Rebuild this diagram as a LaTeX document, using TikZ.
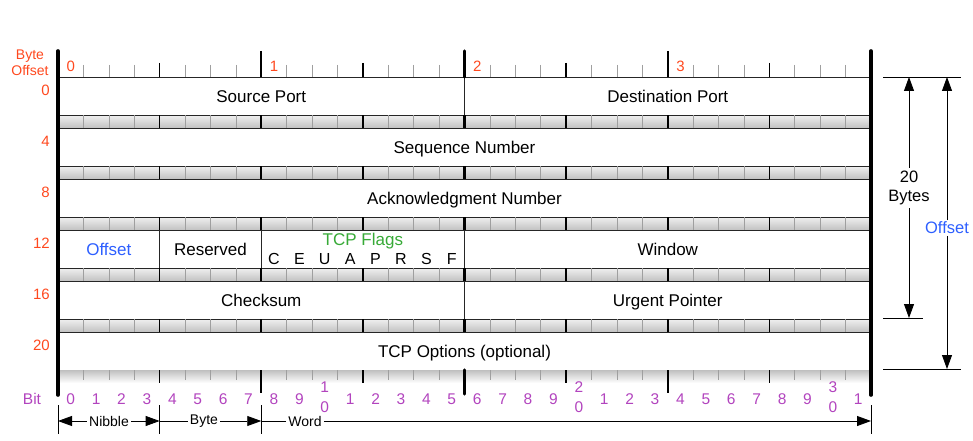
\documentclass[tikz,border=0pt]{standalone}
\usepackage{fontspec}
\setmainfont{Liberation Sans}
\usetikzlibrary{arrows.meta,positioning}

\definecolor{byteorange}{RGB}{255,72,30}
\definecolor{bitpurple}{RGB}{178,68,190}
\definecolor{flaggreen}{RGB}{55,170,55}
\definecolor{offblue}{RGB}{45,95,255}

\def\bw{25.406}

\begin{document}
\begin{tikzpicture}[x=1pt, y=-1pt,
  font=\fontsize{17}{20}\selectfont,
  field/.style={draw=black!85, line width=0.8pt, fill=white, minimum height=38pt, inner sep=0pt, outer sep=0pt, text height=12.2pt, text depth=0pt, anchor=north west},
  band/.style={draw=black!85, line width=0.7pt, top color=gray!12, bottom color=gray!48},
  bittick/.style={draw=gray!75, line width=0.6pt},
  nibtick/.style={draw=black, line width=1.6pt},
  bytetick/.style={draw=black, line width=1.8pt},
  wordtick/.style={draw=black, line width=3.4pt},
  edgebar/.style={draw=black, line width=3.6pt, line cap=round},
  bytenum/.style={text=byteorange, font=\fontsize{15}{17}\selectfont, inner sep=0pt},
  bitnum/.style={text=bitpurple, font=\fontsize{15.5}{17}\selectfont, inner sep=0pt},
  flagbit/.style={font=\fontsize{16}{18}\selectfont, inner sep=0pt, anchor=base},
  span/.style={font=\fontsize{14}{16}\selectfont, inner sep=2pt},
  dim/.style={line width=0.8pt},
  tip/.style={-{Triangle[length=14pt,width=10pt]}},
  ]
  \useasboundingbox (0,0) rectangle (973,441);

  % fields
  \node[field, minimum width={16*\bw*1pt}] (srcport) at (58,77) {Source Port};
  \node[field, minimum width={16*\bw*1pt}] (dstport) at (srcport.north east) {Destination Port};
  \node[field, minimum width={32*\bw*1pt}] (seqnum) at (58,128) {Sequence Number};
  \node[field, minimum width={32*\bw*1pt}] (acknum) at (58,179) {Acknowledgment Number};
  \node[field, minimum width={4*\bw*1pt}, text=offblue] (offset) at (58,230) {Offset};
  \node[field, minimum width={4*\bw*1pt}] (resvd) at (offset.north east) {Reserved};
  \node[field, minimum width={8*\bw*1pt}] (flags) at (resvd.north east) {};
  \node[field, minimum width={16*\bw*1pt}] (window) at (flags.north east) {Window};
  \node[field, minimum width={16*\bw*1pt}] (cksum) at (58,281) {Checksum};
  \node[field, minimum width={16*\bw*1pt}] (urgptr) at (cksum.north east) {Urgent Pointer};
  \node[field, minimum width={32*\bw*1pt}] (options) at (58,332) {TCP Options (optional)};

  \node[text=flaggreen, inner sep=0pt, below=2.5pt of flags.north] (flagtitle) {TCP Flags};
  \foreach \f [count=\i from 8] in {C,E,U,A,P,R,S,F}
    \node[flagbit] (flag\f) at ({58+(\i+0.5)*\bw},264) {\f};

  % gray bands between rows
  \foreach \r in {0,...,4} {
    \draw[band] (58,{115+51*\r}) rectangle (871,{128+51*\r});
    \foreach \b in {1,...,31}
      \draw[bittick] ({58+\b*\bw},{115+51*\r}) -- ++(0,13);
    \foreach \b in {4,8,12,20,24,28}
      \draw[nibtick] ({58+\b*\bw},{115+51*\r}) -- ++(0,13);
    \draw[wordtick] ({58+16*\bw},{115+51*\r}) -- ++(0,13);
  }

  % top ruler
  \foreach \b in {1,...,31}
    \draw[bittick] ({58+\b*\bw},65) -- ({58+\b*\bw},77);
  \foreach \b in {4,12,20,28}
    \draw[nibtick] ({58+\b*\bw},63) -- ({58+\b*\bw},77);
  \foreach \b in {8,24}
    \draw[bytetick] ({58+\b*\bw},51) -- ({58+\b*\bw},77);
  \draw[wordtick, line cap=round] ({58+16*\bw},51) -- ({58+16*\bw},77);
  \foreach \B in {0,...,3}
    \node[bytenum] (byte\B) at ({58+(8*\B+0.5)*\bw},66) {\B};

  % bottom ruler
  \fill[top color=gray!50, bottom color=white] (58,370) rectangle (871,383);
  \foreach \b in {1,...,31}
    \draw[bittick] ({58+\b*\bw},370) -- ({58+\b*\bw},380);
  \foreach \b in {4,12,20,28}
    \draw[nibtick] ({58+\b*\bw},370) -- ({58+\b*\bw},383);
  \foreach \b in {8,24}
    \draw[bytetick] ({58+\b*\bw},370) -- ({58+\b*\bw},393);
  \draw[wordtick, line cap=round] ({58+16*\bw},370) -- ({58+16*\bw},394);

  \draw[edgebar] (58,51) -- (58,395);
  \draw[edgebar] (871,51) -- (871,395);

  % offsets and bit numbers
  \node[bytenum, align=center, font=\fontsize{14}{15.5}\selectfont] (byteoff) at (30,63) {Byte\\Offset};
  \foreach \r/\o in {0/0,1/4,2/8,3/12,4/16,5/20}
    \node[bytenum, anchor=east] (off\o) at (50,{90+51*\r}) {\o};
  \node[bitnum] (bitlbl) at (32,399) {Bit};
  \foreach \b in {0,...,31} {
    \pgfmathtruncatemacro\dig{mod(\b,10)}
    \pgfmathtruncatemacro\ten{\b/10}
    \ifnum\dig=0 \ifnum\b>0
      \node[bitnum] (bit\b) at ({58+(\b+0.5)*\bw},387) {\ten};
      \node[bitnum] (bit\b z) at ({58+(\b+0.5)*\bw},407) {0};
    \else
      \node[bitnum] (bit\b) at ({58+(\b+0.5)*\bw},399) {0};
    \fi\else
      \node[bitnum] (bit\b) at ({58+(\b+0.5)*\bw},399) {\dig};
    \fi
  }

  % nibble / byte / word
  \foreach \b in {0,4,8,32} {
    \coordinate (s\b) at ({58+\b*\bw},421);
    \draw[line width=0.7pt] ({58+\b*\bw},405) -- ({58+\b*\bw},434);
  }
  \node[span] (nibble) at (109,421) {Nibble};
  \node[span] (bytespan) at (204,421) {Byte};
  \node[span] (word) at (305,421) {Word};
  \draw[dim, tip] (nibble) -- (s0);
  \draw[dim, tip] (nibble) -- (s4);
  \draw[dim] (bytespan) -- (s4);
  \draw[dim, tip] (bytespan) -- (s8);
  \draw[dim] (word) -- (s8);
  \draw[dim, tip] (word) -- (s32);

  % header length
  \coordinate (htop) at (909,77);
  \coordinate (hbot) at (909,318);
  \coordinate (otop) at (947,77);
  \coordinate (obot) at (947,369);
  \draw[dim] (883,77) -- (961,77);
  \draw[dim] (883,318) -- (923,318);
  \draw[dim] (883,369) -- (961,369);
  \node[align=center, font=\fontsize{16.5}{19.5}\selectfont, inner sep=3pt] (hdrlen) at (909,188) {20\\Bytes};
  \node[text=offblue, font=\fontsize{16.5}{19}\selectfont, inner sep=1.5pt] (offdim) at (947,228) {Offset};
  \draw[dim, tip] (hdrlen) -- (htop);
  \draw[dim, tip] (hdrlen) -- (hbot);
  \draw[dim, tip] (offdim) -- (otop);
  \draw[dim, tip] (offdim) -- (obot);
\end{tikzpicture}
\end{document}
